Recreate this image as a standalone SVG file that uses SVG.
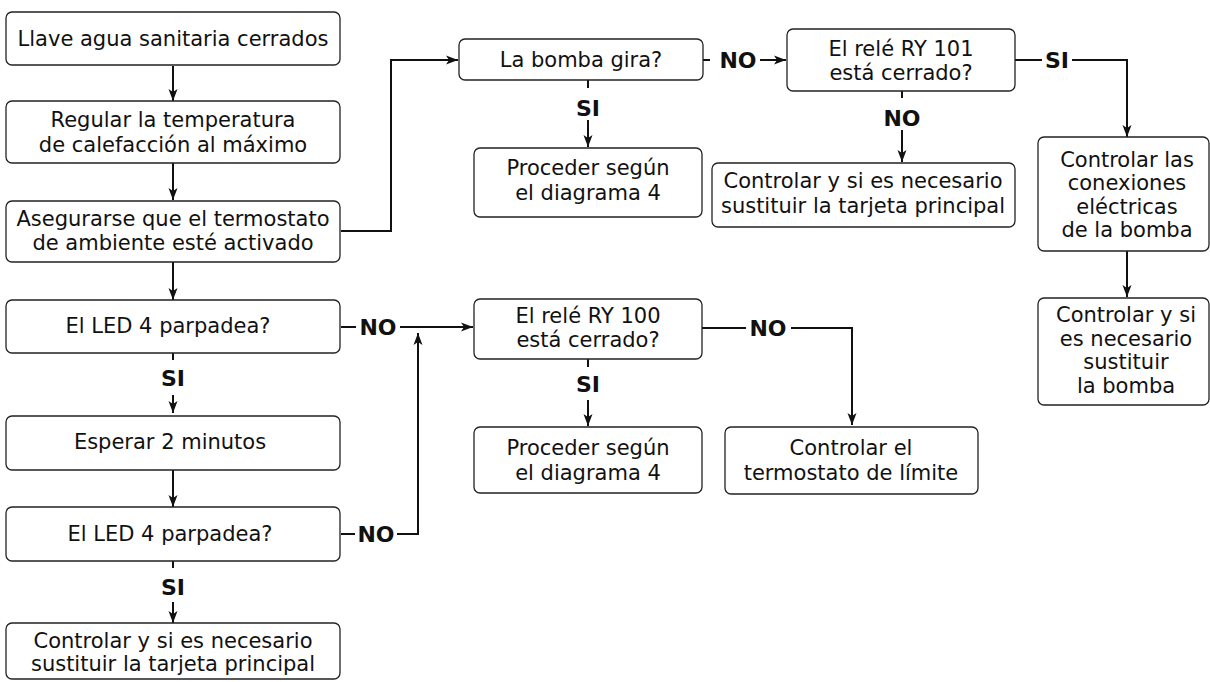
<svg xmlns="http://www.w3.org/2000/svg" width="1210" height="682" viewBox="0 0 1210 682">
<style>
.box{fill:#fff;stroke:#222;stroke-width:1.3}
.t{font-family:"DejaVu Sans","Liberation Sans",sans-serif;font-size:21px;fill:#111;text-anchor:middle}
.l{font-family:"DejaVu Sans","Liberation Sans",sans-serif;font-size:22px;font-weight:bold;fill:#111;text-anchor:middle}
.c{fill:none;stroke:#111;stroke-width:2}
</style>
<defs>
<marker id="a" viewBox="0 0 12 10" refX="12" refY="5" markerWidth="12" markerHeight="10" markerUnits="userSpaceOnUse" orient="auto">
<path d="M0,0.5 L12,5 L0,9.5 L3,5 Z" fill="#111"/>
</marker>
</defs>
<rect width="1210" height="682" fill="#fff"/>
<g id="connectors">
<path class="c" d="M173,66 V101" marker-end="url(#a)"/>
<path class="c" d="M173,163 V200" marker-end="url(#a)"/>
<path class="c" d="M173,262 V300" marker-end="url(#a)"/>
<path class="c" d="M341,231 H391 V60 H458" marker-end="url(#a)"/>
<path class="c" d="M703,60 H710"/>
<path class="c" d="M760,60 H786" marker-end="url(#a)"/>
<path class="c" d="M588,80 V88"/>
<path class="c" d="M588,120 V147" marker-end="url(#a)"/>
<path class="c" d="M902,91 V98"/>
<path class="c" d="M902,130 V162" marker-end="url(#a)"/>
<path class="c" d="M1015,60 H1042"/>
<path class="c" d="M1072,60 H1127 V137" marker-end="url(#a)"/>
<path class="c" d="M1127,251 V297" marker-end="url(#a)"/>
<path class="c" d="M341,327 H356"/>
<path class="c" d="M400,327 H473" marker-end="url(#a)"/>
<path class="c" d="M341,534 H355"/>
<path class="c" d="M397,534 H418 V333" marker-end="url(#a)"/>
<path class="c" d="M173,353 V360"/>
<path class="c" d="M173,395 V413" marker-end="url(#a)"/>
<path class="c" d="M173,470 V507" marker-end="url(#a)"/>
<path class="c" d="M173,561 V568"/>
<path class="c" d="M173,602 V623" marker-end="url(#a)"/>
<path class="c" d="M588,359 V367"/>
<path class="c" d="M588,400 V426" marker-end="url(#a)"/>
<path class="c" d="M702,328 H746"/>
<path class="c" d="M791,328 H852 V425" marker-end="url(#a)"/>
<text class="l" x="738" y="68">NO</text>
<text class="l" x="588" y="116">SI</text>
<text class="l" x="902" y="126">NO</text>
<text class="l" x="1057" y="68">SI</text>
<text class="l" x="378" y="335">NO</text>
<text class="l" x="173" y="386">SI</text>
<text class="l" x="376" y="542">NO</text>
<text class="l" x="173" y="595">SI</text>
<text class="l" x="588" y="392">SI</text>
<text class="l" x="768" y="336">NO</text>
</g>
<g id="n1"><rect class="box" x="6" y="12" width="334" height="53" rx="6"/><text class="t" x="173" y="46">Llave agua sanitaria cerrados</text></g>
<g id="n2"><rect class="box" x="6" y="101" width="334" height="62" rx="6"/><text class="t" x="173" y="127">Regular la temperatura</text><text class="t" x="173" y="152">de calefacción al máximo</text></g>
<g id="n3"><rect class="box" x="6" y="201" width="334" height="61" rx="6"/><text class="t" x="173" y="226">Asegurarse que el termostato</text><text class="t" x="173" y="250">de ambiente esté activado</text></g>
<g id="n4"><rect class="box" x="6" y="300" width="334" height="53" rx="6"/><text class="t" x="168" y="333">El LED 4 parpadea?</text></g>
<g id="n5"><rect class="box" x="6" y="416" width="334" height="54" rx="6"/><text class="t" x="170" y="449">Esperar 2 minutos</text></g>
<g id="n6"><rect class="box" x="6" y="507" width="334" height="54" rx="6"/><text class="t" x="170" y="541">El LED 4 parpadea?</text></g>
<g id="n7"><rect class="box" x="6" y="623" width="334" height="56" rx="6"/><text class="t" x="173" y="648">Controlar y si es necesario</text><text class="t" x="173" y="671">sustituir la tarjeta principal</text></g>
<g id="n8"><rect class="box" x="459" y="39" width="244" height="41" rx="6"/><text class="t" x="581" y="67">La bomba gira?</text></g>
<g id="n9"><rect class="box" x="474" y="148" width="228" height="69" rx="6"/><text class="t" x="588" y="175">Proceder según</text><text class="t" x="588" y="200">el diagrama 4</text></g>
<g id="n10"><rect class="box" x="787" y="29" width="228" height="62" rx="6"/><text class="t" x="901" y="56">El relé RY 101</text><text class="t" x="901" y="80">está cerrado?</text></g>
<g id="n11"><rect class="box" x="712" y="163" width="303" height="64" rx="6"/><text class="t" x="863" y="188">Controlar y si es necesario</text><text class="t" x="863" y="213">sustituir la tarjeta principal</text></g>
<g id="n12"><rect class="box" x="1038" y="137" width="171" height="114" rx="6"/><text class="t" x="1127" y="167">Controlar las</text><text class="t" x="1127" y="190">conexiones</text><text class="t" x="1127" y="214">eléctricas</text><text class="t" x="1127" y="237">de la bomba</text></g>
<g id="n13"><rect class="box" x="1038" y="298" width="171" height="107" rx="6"/><text class="t" x="1126" y="322">Controlar y si</text><text class="t" x="1126" y="346">es necesario</text><text class="t" x="1126" y="369">sustituir</text><text class="t" x="1126" y="393">la bomba</text></g>
<g id="n14"><rect class="box" x="474" y="299" width="228" height="60" rx="6"/><text class="t" x="588" y="323">El relé RY 100</text><text class="t" x="588" y="347">está cerrado?</text></g>
<g id="n15"><rect class="box" x="474" y="427" width="228" height="66" rx="6"/><text class="t" x="588" y="455">Proceder según</text><text class="t" x="588" y="480">el diagrama 4</text></g>
<g id="n16"><rect class="box" x="725" y="427" width="253" height="67" rx="6"/><text class="t" x="851" y="455">Controlar el</text><text class="t" x="851" y="480">termostato de límite</text></g>
</svg>
